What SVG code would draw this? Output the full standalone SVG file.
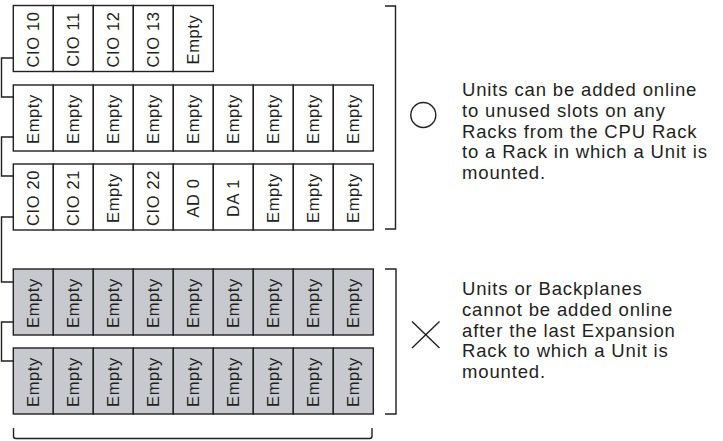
<svg xmlns="http://www.w3.org/2000/svg" width="723" height="441" viewBox="0 0 723 441">
<style>
.cell{fill:#ffffff;stroke:#231f20;stroke-width:1.4}
.g .cell{fill:#c7c9cf}
.lbl{font-family:"Liberation Sans",Arial,sans-serif;font-size:16.5px;letter-spacing:0.6px;fill:#231f20;text-anchor:middle}
.ln{fill:none;stroke:#231f20;stroke-width:1.4}
.note{font-family:"Liberation Sans",Arial,sans-serif;font-size:18.5px;letter-spacing:0.85px;fill:#231f20}
</style>
<rect width="723" height="441" fill="#ffffff"/>
<g id="connectors" class="ln">
<polyline points="13.3,58 1.5,58 1.5,97 13.3,97"/>
<polyline points="13.3,137 1.5,137 1.5,176 13.3,176"/>
<polyline points="13.3,217 1.5,217 1.5,282 13.3,282"/>
<polyline points="13.3,322 1.5,322 1.5,361 13.3,361"/>
</g>
<g id="rack1">
<rect class="cell" x="13.3" y="5.5" width="40" height="66"/>
<rect class="cell" x="53.3" y="5.5" width="40" height="66"/>
<rect class="cell" x="93.3" y="5.5" width="40" height="66"/>
<rect class="cell" x="133.3" y="5.5" width="40" height="66"/>
<rect class="cell" x="173.3" y="5.5" width="40" height="66"/>
<text class="lbl" transform="translate(38.8,39.5) rotate(-90)">CIO 10</text>
<text class="lbl" transform="translate(78.8,39.5) rotate(-90)">CIO 11</text>
<text class="lbl" transform="translate(118.8,39.5) rotate(-90)">CIO 12</text>
<text class="lbl" transform="translate(158.8,39.5) rotate(-90)">CIO 13</text>
<text class="lbl" transform="translate(198.8,39.5) rotate(-90)">Empty</text>
</g>
<g id="rack2">
<rect class="cell" x="13.3" y="85" width="40" height="66"/>
<rect class="cell" x="53.3" y="85" width="40" height="66"/>
<rect class="cell" x="93.3" y="85" width="40" height="66"/>
<rect class="cell" x="133.3" y="85" width="40" height="66"/>
<rect class="cell" x="173.3" y="85" width="40" height="66"/>
<rect class="cell" x="213.3" y="85" width="40" height="66"/>
<rect class="cell" x="253.3" y="85" width="40" height="66"/>
<rect class="cell" x="293.3" y="85" width="40" height="66"/>
<rect class="cell" x="333.3" y="85" width="40" height="66"/>
<text class="lbl" transform="translate(38.8,119) rotate(-90)">Empty</text>
<text class="lbl" transform="translate(78.8,119) rotate(-90)">Empty</text>
<text class="lbl" transform="translate(118.8,119) rotate(-90)">Empty</text>
<text class="lbl" transform="translate(158.8,119) rotate(-90)">Empty</text>
<text class="lbl" transform="translate(198.8,119) rotate(-90)">Empty</text>
<text class="lbl" transform="translate(238.8,119) rotate(-90)">Empty</text>
<text class="lbl" transform="translate(278.8,119) rotate(-90)">Empty</text>
<text class="lbl" transform="translate(318.8,119) rotate(-90)">Empty</text>
<text class="lbl" transform="translate(358.8,119) rotate(-90)">Empty</text>
</g>
<g id="rack3">
<rect class="cell" x="13.3" y="164" width="40" height="66"/>
<rect class="cell" x="53.3" y="164" width="40" height="66"/>
<rect class="cell" x="93.3" y="164" width="40" height="66"/>
<rect class="cell" x="133.3" y="164" width="40" height="66"/>
<rect class="cell" x="173.3" y="164" width="40" height="66"/>
<rect class="cell" x="213.3" y="164" width="40" height="66"/>
<rect class="cell" x="253.3" y="164" width="40" height="66"/>
<rect class="cell" x="293.3" y="164" width="40" height="66"/>
<rect class="cell" x="333.3" y="164" width="40" height="66"/>
<text class="lbl" transform="translate(38.8,198) rotate(-90)">CIO 20</text>
<text class="lbl" transform="translate(78.8,198) rotate(-90)">CIO 21</text>
<text class="lbl" transform="translate(118.8,198) rotate(-90)">Empty</text>
<text class="lbl" transform="translate(158.8,198) rotate(-90)">CIO 22</text>
<text class="lbl" transform="translate(198.8,198) rotate(-90)">AD 0</text>
<text class="lbl" transform="translate(238.8,198) rotate(-90)">DA 1</text>
<text class="lbl" transform="translate(278.8,198) rotate(-90)">Empty</text>
<text class="lbl" transform="translate(318.8,198) rotate(-90)">Empty</text>
<text class="lbl" transform="translate(358.8,198) rotate(-90)">Empty</text>
</g>
<g id="rack4" class="g">
<rect class="cell" x="13.3" y="269" width="40" height="66"/>
<rect class="cell" x="53.3" y="269" width="40" height="66"/>
<rect class="cell" x="93.3" y="269" width="40" height="66"/>
<rect class="cell" x="133.3" y="269" width="40" height="66"/>
<rect class="cell" x="173.3" y="269" width="40" height="66"/>
<rect class="cell" x="213.3" y="269" width="40" height="66"/>
<rect class="cell" x="253.3" y="269" width="40" height="66"/>
<rect class="cell" x="293.3" y="269" width="40" height="66"/>
<rect class="cell" x="333.3" y="269" width="40" height="66"/>
<text class="lbl" transform="translate(38.8,303) rotate(-90)">Empty</text>
<text class="lbl" transform="translate(78.8,303) rotate(-90)">Empty</text>
<text class="lbl" transform="translate(118.8,303) rotate(-90)">Empty</text>
<text class="lbl" transform="translate(158.8,303) rotate(-90)">Empty</text>
<text class="lbl" transform="translate(198.8,303) rotate(-90)">Empty</text>
<text class="lbl" transform="translate(238.8,303) rotate(-90)">Empty</text>
<text class="lbl" transform="translate(278.8,303) rotate(-90)">Empty</text>
<text class="lbl" transform="translate(318.8,303) rotate(-90)">Empty</text>
<text class="lbl" transform="translate(358.8,303) rotate(-90)">Empty</text>
</g>
<g id="rack5" class="g">
<rect class="cell" x="13.3" y="348" width="40" height="66"/>
<rect class="cell" x="53.3" y="348" width="40" height="66"/>
<rect class="cell" x="93.3" y="348" width="40" height="66"/>
<rect class="cell" x="133.3" y="348" width="40" height="66"/>
<rect class="cell" x="173.3" y="348" width="40" height="66"/>
<rect class="cell" x="213.3" y="348" width="40" height="66"/>
<rect class="cell" x="253.3" y="348" width="40" height="66"/>
<rect class="cell" x="293.3" y="348" width="40" height="66"/>
<rect class="cell" x="333.3" y="348" width="40" height="66"/>
<text class="lbl" transform="translate(38.8,382) rotate(-90)">Empty</text>
<text class="lbl" transform="translate(78.8,382) rotate(-90)">Empty</text>
<text class="lbl" transform="translate(118.8,382) rotate(-90)">Empty</text>
<text class="lbl" transform="translate(158.8,382) rotate(-90)">Empty</text>
<text class="lbl" transform="translate(198.8,382) rotate(-90)">Empty</text>
<text class="lbl" transform="translate(238.8,382) rotate(-90)">Empty</text>
<text class="lbl" transform="translate(278.8,382) rotate(-90)">Empty</text>
<text class="lbl" transform="translate(318.8,382) rotate(-90)">Empty</text>
<text class="lbl" transform="translate(358.8,382) rotate(-90)">Empty</text>
</g>
<g id="brackets" class="ln">
<polyline points="385,6 395.5,6 395.5,229 385,229"/>
<polyline points="385,269 396,269 396,414 385,414"/>
<path d="M13.5,428 L13.5,436 Q13.5,438.5 16,438.5 L369.5,438.5 Q372,438.5 372,436 L372,428"/>
</g>
<g id="note-ok">
<circle class="ln" cx="423.3" cy="115" r="12.5"/>
<text class="note" x="462" y="96"><tspan x="462" y="96">Units can be added online</tspan><tspan x="462" y="116.75">to unused slots on any</tspan><tspan x="462" y="137.5">Racks from the CPU Rack</tspan><tspan x="462" y="158.25">to a Rack in which a Unit is</tspan><tspan x="462" y="179">mounted.</tspan></text>
</g>
<g id="note-ng">
<path class="ln" d="M412,321.5 L439.5,348 M439.5,321.5 L412,348"/>
<text class="note" x="462" y="295"><tspan x="462" y="295">Units or Backplanes</tspan><tspan x="462" y="315.75">cannot be added online</tspan><tspan x="462" y="336.5">after the last Expansion</tspan><tspan x="462" y="357.25">Rack to which a Unit is</tspan><tspan x="462" y="378">mounted.</tspan></text>
</g>
</svg>
